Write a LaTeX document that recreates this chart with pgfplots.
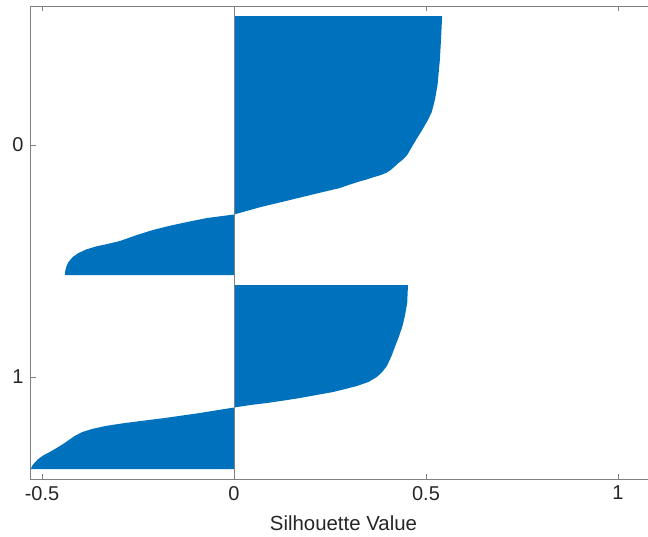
\documentclass[border=0pt]{standalone}
\usepackage{fontspec}
\setmainfont{Liberation Sans}
\usepackage{pgfplots}
\pgfplotsset{compat=1.18}
\definecolor{mblue}{RGB}{0,114,189}
\definecolor{mtext}{RGB}{38,38,38}
\definecolor{maxis}{RGB}{128,128,128}
\begin{document}
\begin{tikzpicture}
\useasboundingbox (0,0) rectangle (324pt,268pt);
\begin{axis}[
  at={(15.25pt,28.5pt)}, anchor=south west,
  scale only axis, width=312.96pt, height=236.5pt,
  xmin=-0.53, xmax=1.1, ymin=6, ymax=479, y dir=reverse,
  xtick={-0.5,0,0.5,1}, xticklabels={-0.5,0,0.5,1},
  ytick={145,377}, yticklabels={0,1},
  ytick pos=left, xtick pos=both,
  tick align=inside, major tick length=2.5pt,
  axis line style={maxis, line width=0.5pt},
  every tick/.style={maxis, line width=0.5pt},
  ticklabel style={font=\fontsize{10}{12}\selectfont, text=mtext},
  xlabel={Silhouette Value},
  xlabel style={font=\fontsize{10.2}{12}\selectfont, text=mtext, yshift=-1pt},
  clip=false,
]
\addplot[fill=mblue, draw=none] coordinates {
  (0,16) (0.542,16) (0.539,40) (0.536,60) (0.530,85) (0.523,100) (0.515,112)
  (0.505,120) (0.490,130) (0.477,138) (0.463,147) (0.451,155) (0.440,159.5)
  (0.427,163.5) (0.417,167) (0.408,170) (0.398,172.5) (0.383,175) (0.365,177)
  (0.345,179.5) (0.322,182) (0.298,185) (0.276,188) (0.21,194) (0.146,200)
  (0.07,207) (0,214.5)
  (-0.070,218) (-0.122,222) (-0.170,226) (-0.211,230) (-0.253,235) (-0.297,241)
  (-0.330,244) (-0.360,246.5) (-0.385,249.5) (-0.405,253) (-0.420,257)
  (-0.431,262) (-0.437,267) (-0.440,272) (-0.440,275) (0,275)
} -- cycle;
\addplot[fill=mblue, draw=none] coordinates {
  (0,285) (0.453,285) (0.451,303) (0.445,316) (0.438,327) (0.429,337)
  (0.419,347) (0.409,357) (0.398,366) (0.386,372) (0.372,377) (0.350,382)
  (0.320,386) (0.290,389) (0.258,392) (0.215,395) (0.172,398) (0.130,400.5)
  (0.086,403) (0.043,405) (0,407.5)
  (-0.089,413) (-0.18,418) (-0.284,423) (-0.335,426) (-0.370,429)
  (-0.395,432) (-0.415,436) (-0.430,440) (-0.445,444) (-0.462,448)
  (-0.480,452) (-0.497,455.5) (-0.510,459) (-0.520,463)
  (-0.526,466) (-0.529,469) (0,469)
} -- cycle;
\addplot[maxis, line width=0.5pt] coordinates {(0,6) (0,479)};
\end{axis}
\end{tikzpicture}
\end{document}
